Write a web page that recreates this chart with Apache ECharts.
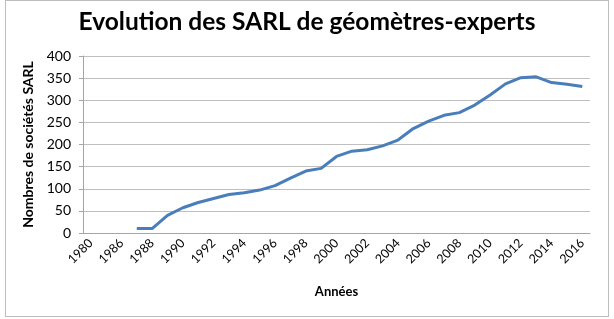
<!DOCTYPE html>
<html>
<head>
<meta charset="utf-8">
<script src="https://cdn.jsdelivr.net/npm/echarts@6/dist/echarts.min.js"></script>
<style>
  html, body { margin: 0; padding: 0; background: #fff; }
  #chart { width: 614px; height: 319px; }
  #frame { position: absolute; left: 5px; top: 0px; width: 604px; height: 317px; border: 1px solid #bdbdbd; box-sizing: border-box; pointer-events: none; }
</style>
</head>
<body>
<div id="chart"></div>
<div id="frame"></div>
<script>
// années (catégories de l'axe x)
const years = ['1980', '1985', '1986', '1987', '1988', '1989', '1990', '1991', '1992', '1993',
    '1994', '1995', '1996', '1997', '1998', '1999', '2000', '2001', '2002', '2003',
    '2004', '2005', '2006', '2007', '2008', '2009', '2010', '2011', '2012', '2013',
    '2014', '2015', '2016'];
// nombre de SARL par année
const sarlCount = [null, null, null, 10, 10, 40, 57, 69, 78, 87,
    91, 97, 107, 124, 140, 146, 173, 185, 188, 197,
    210, 236, 253, 266, 272, 289, 312, 337, 351, 353,
    340, 336, 331];

const font = 'Lato, "Open Sans", sans-serif';

const option = {
    animation: false,
    title: {
        text: 'Evolution des SARL de géomètres-experts',
        left: 'center',
        top: 5,
        textStyle: { fontFamily: font, fontSize: 24.5, fontWeight: 'bold', color: '#000' }
    },
    grid: { left: 83, right: 24, top: 56, bottom: 86 },
    xAxis: {
        type: 'category',
        data: years,
        boundaryGap: true,
        name: 'Années',
        nameLocation: 'middle',
        nameGap: 52,
        nameTextStyle: { fontFamily: font, fontSize: 13, fontWeight: 'bold', color: '#000' },
        axisLine: { lineStyle: { color: '#a6a6a6' } },
        axisTick: { show: false },
        axisLabel: { interval: 1, rotate: 45, fontFamily: font, fontSize: 12.5, color: '#000', margin: 8 }
    },
    yAxis: {
        type: 'value',
        min: 0,
        max: 400,
        interval: 50,
        name: 'Nombres de sociétés SARL',
        nameLocation: 'middle',
        nameGap: 48,
        nameTextStyle: { fontFamily: font, fontSize: 14, fontWeight: 'bold', color: '#000' },
        axisLine: { show: true, lineStyle: { color: '#a6a6a6' } },
        axisTick: { show: true, length: 4, lineStyle: { color: '#a6a6a6' } },
        axisLabel: { fontFamily: font, fontSize: 14, color: '#000', margin: 12 },
        splitLine: { lineStyle: { color: '#bfbfbf', width: 1 } }
    },
    series: [
        {
            name: 'SARL',
            type: 'line',
            data: sarlCount,
            showSymbol: false,
            connectNulls: false,
            lineStyle: { color: '#4a7ebb', width: 3 },
            itemStyle: { color: '#4a7ebb' }
        }
    ]
};

var chart = echarts.init(document.getElementById('chart'));
chart.setOption(option);
</script>
</body>
</html>
